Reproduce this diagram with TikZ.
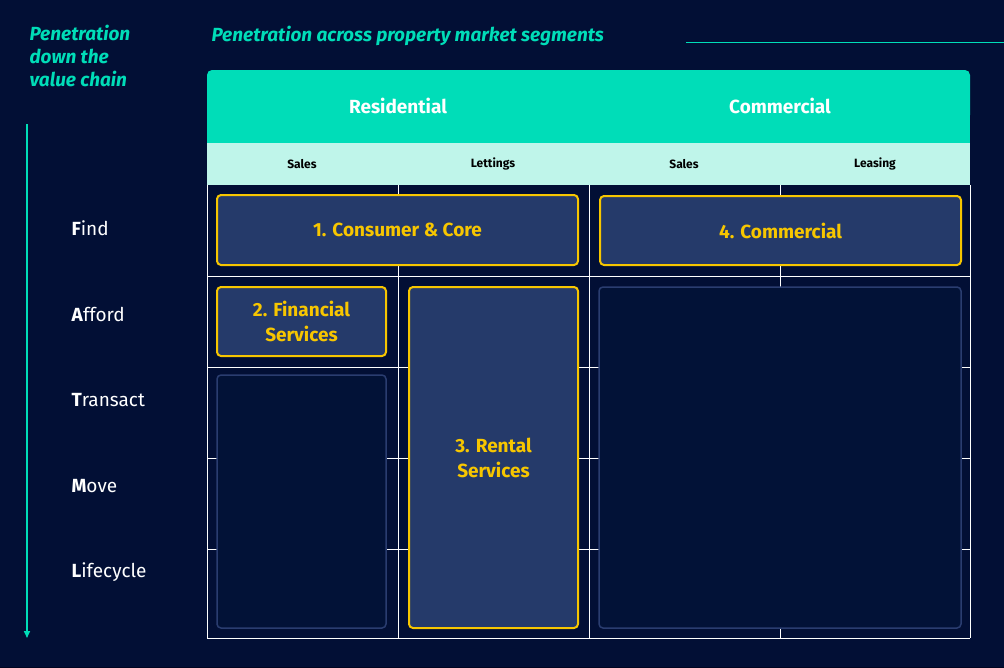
\documentclass[tikz,border=0pt]{standalone}
\usepackage{fontspec}
\setmainfont{Fira Sans}
\usetikzlibrary{arrows.meta}
\definecolor{bg}{HTML}{020F35}
\definecolor{teal}{HTML}{00DDB8}
\definecolor{mint}{HTML}{BFF5EA}
\definecolor{boxf}{HTML}{253A6A}
\definecolor{gold}{HTML}{F7C600}
\definecolor{darkf}{HTML}{021237}
\definecolor{darkb}{HTML}{2A3D70}
\begin{document}
\begin{tikzpicture}[x=1pt,y=-1pt,
 seg/.style={text=teal,font=\bfseries\itshape\fontsize{19}{23}\selectfont,align=left},
 hdr/.style={text=white,font=\bfseries\fontsize{19}{22}\selectfont},
 sub/.style={text=black,font=\bfseries\fontsize{12}{14}\selectfont},
 row/.style={text=white,font=\fontsize{19}{22}\selectfont,anchor=west},
 ybox/.style={draw=gold,line width=2pt,fill=boxf,rounded corners=4pt,text=gold,font=\bfseries\fontsize{19}{25}\selectfont,align=center},
 dbox/.style={draw=darkb,line width=1.5pt,fill=darkf,rounded corners=4pt},
 grid/.style={draw=white,line width=0.8pt}]
\useasboundingbox (0,0) rectangle (1004,667);
\shade[top color=bg,bottom color=bg!85!blue!40!black] (0,0) rectangle (1004,667);
\fill[bg] (0,0) rectangle (1004,667);
% header
\fill[teal,rounded corners=5pt] (207,70) rectangle (970,120);
\fill[teal] (207,100) rectangle (970,143);
\fill[mint] (207,143) rectangle (970,185);
\node[hdr] (res) at (398,106) {Residential};
\node[hdr] (com) at (780,106) {Commercial};
\node[sub] (s1) at (302,164) {Sales};
\node[sub] (s2) at (493,164) {Lettings};
\node[sub] (s3) at (684,164) {Sales};
\node[sub] (s4) at (875,164) {Leasing};
% grid
\foreach \x in {207,398,589,780,970} \draw[grid] (\x,185) -- (\x,638);
\foreach \y in {276,367,458,549,638} \draw[grid] (207,\y) -- (970,\y);
% boxes
\node[ybox,minimum width=361pt,minimum height=70pt] (b1) at (397.5,230) {1. Consumer \& Core};
\node[ybox,minimum width=361pt,minimum height=69pt] (b4) at (780.5,230.5) {4. Commercial};
\node[ybox,minimum width=169pt,minimum height=69pt] (b2) at (301.5,321.5) {2. Financial\\Services};
\node[ybox,minimum width=169pt,minimum height=341pt] (b3) at (493.5,457.5) {3. Rental\\Services};
\node[dbox,minimum width=169pt,minimum height=253pt] (d1) at (301.5,501.5) {};
\node[dbox,minimum width=362pt,minimum height=341pt] (d2) at (780,457.5) {};
% titles
\node[seg,anchor=north west] (t1) at (26,22) {Penetration\\down the\\value chain};
\node[seg,anchor=west] (t2) at (208,36) {Penetration across property market segments};
\coordinate (l1) at (686,42); \coordinate (l2) at (1004,42);
\draw[teal,line width=1pt] (l1) -- (l2);
\coordinate (a1) at (27,124); \coordinate (a2) at (27,638);
\draw[teal,line width=1.5pt,-{Triangle[length=7pt,width=6pt]}] (a1) -- (a2);
% rows
\node[row] (r1) at (68,228) {\textbf{F}ind};
\node[row] (r2) at (68,314) {\textbf{A}fford};
\node[row] (r3) at (68,400) {\textbf{T}ransact};
\node[row] (r4) at (68,486) {\textbf{M}ove};
\node[row] (r5) at (68,572) {\textbf{L}ifecycle};
\end{tikzpicture}
\end{document}
